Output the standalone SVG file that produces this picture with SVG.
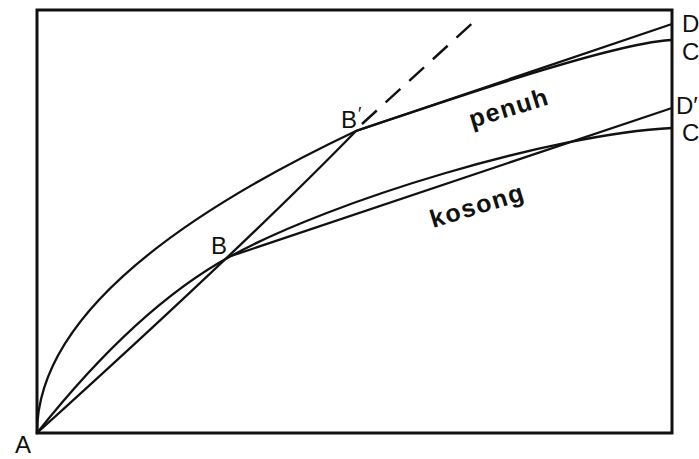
<svg xmlns="http://www.w3.org/2000/svg" width="699" height="459" viewBox="0 0 699 459">
<style>
.frame{fill:none;stroke:#111;stroke-width:3}
.ln{fill:none;stroke:#111;stroke-width:2.3;stroke-linecap:round}
.dash{fill:none;stroke:#111;stroke-width:2.4;stroke-dasharray:20 12}
.lbl{font-family:"Liberation Sans",Arial,sans-serif;font-size:24px;fill:#111}
.word{font-family:"Liberation Sans",Arial,sans-serif;font-size:25px;font-weight:bold;letter-spacing:1.5px;fill:#111}
</style>
<rect width="699" height="459" fill="#fff"/>
<g id="frame"><rect class="frame" x="37" y="10" width="635" height="423"/></g>
<g id="connectors">
<path id="upper-curve" class="ln" d="M37,433 Q37,282 356,131 C440,103 615,42 672,40"/>
<path id="line-BpD" class="ln" d="M356,131 L672,24"/>
<path id="lower-curve" class="ln" d="M37,433 Q137,307 231,256 C333,200 552,134 672,128"/>
<path id="line-BDp" class="ln" d="M231,256 L672,108"/>
<path id="line-ABBp" class="ln" d="M37,433 Q245,245 356,131"/>
<path id="dashed" class="dash" d="M362,124 L478,18"/>
</g>
<g id="labels">
<text class="lbl" x="15" y="453">A</text>
<text class="lbl" x="211" y="254">B</text>
<text class="lbl" x="341" y="128">B<tspan dx="1" dy="-8" font-size="18">′</tspan></text>
<text class="lbl" x="682" y="32" font-size="22">D</text>
<text class="lbl" x="682" y="60" font-size="22">C</text>
<text class="lbl" x="676" y="114" font-size="20">D′</text>
<text class="lbl" x="682" y="141" font-size="22">C</text>
<text class="word" x="472" y="128" transform="rotate(-17 472 128)">penuh</text>
<text class="word" x="433" y="228" transform="rotate(-17 433 228)">kosong</text>
</g>
</svg>
